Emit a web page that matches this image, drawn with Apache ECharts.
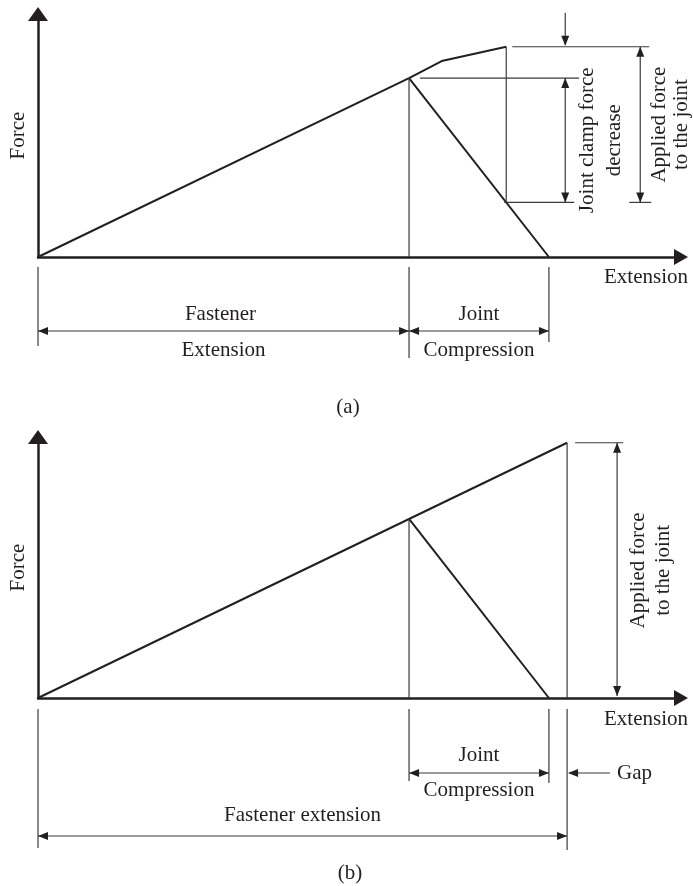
<!DOCTYPE html>
<html>
<head>
<meta charset="utf-8">
<script src="https://cdn.jsdelivr.net/npm/echarts@6/dist/echarts.min.js"></script>
<style>
html, body { margin: 0; padding: 0; background: #fff; }
#chart { width: 693px; height: 886px; }
</style>
</head>
<body>
<div id="chart"></div>
<script>
// (a) fastener line: elastic part, joint separation knee, max applied load
const extA = [0, 100, 108.8, 126.2];
const forceA = [0, 100, 109.5, 117.5];
// joint compression line (same in both panels)
const jointExt = [100, 137.7];
const jointForce = [100, 0];
// (b) fastener line straight up to the gap
const extB = [0, 100, 142.6];
const forceB = [0, 100, 142.6];

const axisNames = ['Force', 'Extension'];
const panelLabels = ['(a)', '(b)'];
const labelsA = { clamp: ['Joint clamp force', 'decrease'], applied: ['Applied force', 'to the joint'],
                  left: ['Fastener', 'Extension'], right: ['Joint', 'Compression'] };
const labelsB = { applied: ['Applied force', 'to the joint'], joint: ['Joint', 'Compression'],
                  gap: 'Gap', fastener: 'Fastener extension' };

const INK = '#231f20';
const THIN = '#3c3a3b';
const FONT = '"Liberation Serif", "Times New Roman", serif';
const FS = 21;

function zip(xs, ys) { return xs.map((x, i) => [x, ys[i]]); }
// force on the joint line at a given extension
function jointAt(x) {
  const t = (x - jointExt[0]) / (jointExt[1] - jointExt[0]);
  return jointForce[0] + t * (jointForce[1] - jointForce[0]);
}

const chart = echarts.init(document.getElementById('chart'));

function xAx(i) {
  return {
    type: 'value', gridIndex: i, min: 0, max: 173.3,
    axisLine: { show: true, onZero: false, symbol: ['none', 'triangle'], symbolSize: [16, 14],
                lineStyle: { color: INK, width: 2.5 } },
    axisTick: { show: false }, axisLabel: { show: false }, splitLine: { show: false },
    name: axisNames[1], nameLocation: 'end', nameGap: 7,
    nameTextStyle: { fontFamily: FONT, fontSize: FS, color: INK, align: 'right',
                     verticalAlign: 'top', padding: [i === 0 ? 10 : 11, 0, 0, 0] }
  };
}
function yAx(i, max) {
  return {
    type: 'value', gridIndex: i, min: 0, max: max,
    axisLine: { show: true, onZero: false, symbol: ['none', 'triangle'], symbolSize: [20, 14],
                lineStyle: { color: INK, width: 2.5 } },
    axisTick: { show: false }, axisLabel: { show: false }, splitLine: { show: false },
    name: axisNames[0], nameLocation: 'middle', nameGap: 9,
    nameTextStyle: { fontFamily: FONT, fontSize: FS, color: INK }
  };
}
function lineS(i, data, w, c) {
  return { type: 'line', xAxisIndex: i, yAxisIndex: i, data: data, symbol: 'none', silent: true,
           clip: false, lineStyle: { color: c || INK, width: w || 2 } };
}

chart.setOption({
  animation: false,
  backgroundColor: '#fff',
  grid: [
    { left: 38, top: 14, width: 643, height: 243 },
    { left: 38, top: 437, width: 643, height: 261 }
  ],
  xAxis: [xAx(0), xAx(1)],
  yAxis: [yAx(0, 135.8), yAx(1, 145.8)],
  series: [
    lineS(0, zip(extA, forceA)),
    lineS(0, zip(jointExt, jointForce)),
    lineS(0, [[extA[1], forceA[1]], [extA[1], 0]], 1.2, THIN),
    lineS(0, [[extA[3], forceA[3]], [extA[3], jointAt(extA[3])]], 1.2, THIN),
    lineS(1, zip(extB, forceB)),
    lineS(1, zip(jointExt, jointForce)),
    lineS(1, [[extB[1], forceB[1]], [extB[1], 0]], 1.2, THIN),
    lineS(1, [[extB[2], forceB[2]], [extB[2], 0]], 1.2, THIN)
  ]
});

// ---- annotations, placed from the data through the grids ----
const px = (g, x, y) => chart.convertToPixel({ gridIndex: g }, [x, y]);
const g = [];
function seg(x1, y1, x2, y2) {
  g.push({ type: 'line', silent: true, shape: { x1, y1, x2, y2 }, style: { stroke: THIN, lineWidth: 1.2 } });
}
function head(x, y, dir) {
  const L = 10, H = 4;
  const p = {
    up: [[x, y], [x - H, y + L], [x + H, y + L]],
    down: [[x, y], [x - H, y - L], [x + H, y - L]],
    left: [[x, y], [x + L, y - H], [x + L, y + H]],
    right: [[x, y], [x - L, y - H], [x - L, y + H]]
  }[dir];
  g.push({ type: 'polygon', silent: true, shape: { points: p }, style: { fill: INK } });
}
function dimV(x, y1, y2) { seg(x, y1, x, y2); head(x, y1, 'up'); head(x, y2, 'down'); }
function dimH(y, x1, x2) { seg(x1, y, x2, y); head(x1, y, 'left'); head(x2, y, 'right'); }
function txt(s, x, y, rot, align) {
  g.push({ type: 'text', silent: true, x: x, y: y, rotation: rot || 0,
           style: { text: s, fontFamily: FONT, fontSize: FS, fill: INK,
                    align: align || 'center', verticalAlign: 'middle' } });
}

// panel (a)
(function () {
  const O = px(0, 0, 0), P = px(0, extA[1], forceA[1]), T = px(0, extA[3], forceA[3]);
  const E = px(0, jointExt[1], 0), R = px(0, extA[3], jointAt(extA[3]));
  seg(T[0] + 6, T[1], T[0] + 143, T[1]);
  seg(P[0] + 11, P[1], P[0] + 170, P[1]);
  seg(T[0] - 2, R[1], T[0] + 68, R[1]);
  seg(T[0] + 123, R[1], T[0] + 145, R[1]);
  dimV(T[0] + 59, P[1], R[1]);
  dimV(T[0] + 134, T[1], R[1]);
  seg(T[0] + 59, 13, T[0] + 59, T[1] - 2); head(T[0] + 59, T[1] - 1, 'down');
  const midC = (P[1] + R[1]) / 2, midA = (T[1] + R[1]) / 2;
  txt(labelsA.clamp[0], T[0] + 81, midC, Math.PI / 2);
  txt(labelsA.clamp[1], T[0] + 108, midC, Math.PI / 2);
  txt(labelsA.applied[0], T[0] + 153, midA, Math.PI / 2);
  txt(labelsA.applied[1], T[0] + 175, midA, Math.PI / 2);
  // dimensions below the axis
  seg(O[0], O[1] + 10, O[0], O[1] + 89);
  seg(P[0], O[1] + 10, P[0], O[1] + 101);
  seg(E[0], O[1] + 10, E[0], O[1] + 85);
  dimH(O[1] + 74, O[0], P[0]);
  dimH(O[1] + 74, P[0], E[0]);
  txt(labelsA.left[0], (O[0] + P[0]) / 2 - 3, O[1] + 57);
  txt(labelsA.left[1], (O[0] + P[0]) / 2, O[1] + 93);
  txt(labelsA.right[0], (P[0] + E[0]) / 2, O[1] + 57);
  txt(labelsA.right[1], (P[0] + E[0]) / 2, O[1] + 93);
  txt(panelLabels[0], 348, O[1] + 150);
})();

// panel (b)
(function () {
  const O = px(1, 0, 0), P = px(1, extB[1], forceB[1]), T = px(1, extB[2], forceB[2]);
  const E = px(1, jointExt[1], 0);
  seg(T[0] + 8, T[1], T[0] + 56, T[1]);
  dimV(T[0] + 50, T[1], O[1] - 2);
  const mid = (T[1] + O[1]) / 2;
  txt(labelsB.applied[0], T[0] + 71, mid, Math.PI / 2);
  txt(labelsB.applied[1], T[0] + 96, mid, Math.PI / 2);
  seg(O[0], O[1] + 11, O[0], O[1] + 150);
  seg(P[0], O[1] + 11, P[0], O[1] + 83);
  seg(E[0], O[1] + 11, E[0], O[1] + 85);
  seg(T[0], O[1] + 11, T[0], O[1] + 152);
  dimH(O[1] + 75, P[0], E[0]);
  txt(labelsB.joint[0], (P[0] + E[0]) / 2, O[1] + 57);
  txt(labelsB.joint[1], (P[0] + E[0]) / 2, O[1] + 92);
  seg(T[0] + 2, O[1] + 75, T[0] + 43, O[1] + 75); head(T[0] + 1, O[1] + 75, 'left');
  txt(labelsB.gap, T[0] + 50, O[1] + 75, 0, 'left');
  dimH(O[1] + 138, O[0], T[0]);
  txt(labelsB.fastener, (O[0] + T[0]) / 2, O[1] + 117);
  txt(panelLabels[1], 350, O[1] + 175);
})();

chart.setOption({ graphic: g });
</script>
</body>
</html>
